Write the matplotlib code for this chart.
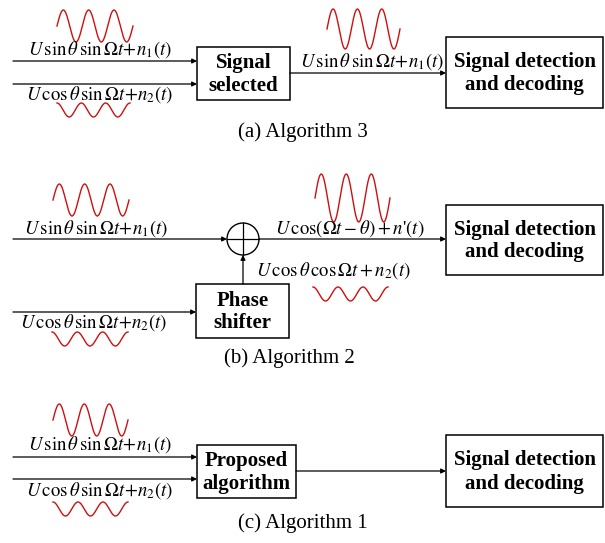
import numpy as np
import matplotlib.pyplot as plt
from matplotlib.patches import Rectangle, Circle

plt.rcParams['font.family'] = ['Liberation Serif', 'DejaVu Serif']
plt.rcParams['mathtext.fontset'] = 'stix'

# texts
sig1 = r'$U\,\sin\theta\,\sin\Omega t\!+\!n_1(t)$'
sig2 = r'$U\,\cos\theta\,\sin\Omega t\!+\!n_2(t)$'
sig_sum = r"$U\,\cos(\Omega t-\theta)+n$'$(t)$"
sig_shift = r'$U\,\cos\theta\,\cos\Omega t+n_2(t)$'
captions = ['(a) Algorithm 3', '(b) Algorithm 2', '(c) Algorithm 1']
mid_boxes = ['Signal\nselected', 'Phase\nshifter', 'Proposed\nalgorithm']
out_box = 'Signal detection\nand decoding'

# little red waves: (x0, x1, y centre, amplitude, cycles, start phase)
big_waves = [(57, 133, 26, 16, 3, 0.0), (327, 400, 29, 20, 3, 0.0),
             (53, 129, 200, 16, 3, 0.0), (315, 390, 198, 24, 3, 0.0),
             (53, 128, 420, 16, 3, 0.0)]
small_waves = [(57, 130, 110, 7, 3, 0.25), (313, 388, 294, 7, 3, 0.25),
               (52, 128, 339, 7, 3, 0.25), (53, 128, 509, 7, 3, 0.25)]

fig = plt.figure(figsize=(6.05, 5.43), dpi=100)
ax = fig.add_axes([0, 0, 1, 1])
ax.set_xlim(0, 605)
ax.set_ylim(543, 0)
ax.axis('off')

BOXFS = 15
SIGFS = 13.5
CAPFS = 15


def box(x0, y0, x1, y1, txt):
    ax.add_patch(Rectangle((x0, y0), x1 - x0, y1 - y0, fill=False, lw=1.1, ec='black'))
    ax.text((x0 + x1) / 2, (y0 + y1) / 2 + 1, txt, ha='center', va='center',
            fontsize=BOXFS, fontweight='bold', linespacing=1.2)


def arrow(x0, y0, x1, y1):
    ax.annotate('', xy=(x1, y1), xytext=(x0, y0),
                arrowprops=dict(arrowstyle='-|>', lw=0.9, color='black',
                                mutation_scale=7, shrinkA=0, shrinkB=0))


def wave(x0, x1, yc, amp, cyc, ph):
    t = np.linspace(0, 1, 300)
    ax.plot(x0 + (x1 - x0) * t, yc - amp * np.sin(2 * np.pi * (cyc * t + ph)),
            color='#cc1010', lw=1.0)


for w in big_waves + small_waves:
    wave(*w)

# (a)
arrow(13, 61, 197, 61)
arrow(13, 84, 197, 84)
ax.text(100, 50, sig1, ha='center', va='center', fontsize=SIGFS)
ax.text(100, 95, sig2, ha='center', va='center', fontsize=SIGFS)
box(197, 47, 290, 100, mid_boxes[0])
arrow(290, 73, 446, 73)
ax.text(372, 62, sig1, ha='center', va='center', fontsize=SIGFS)
box(446, 37, 603, 108, out_box)
ax.text(303, 132, captions[0], ha='center', va='center', fontsize=CAPFS)

# (b)
arrow(13, 239, 227, 239)
ax.text(96, 229, sig1, ha='center', va='center', fontsize=SIGFS)
ax.add_patch(Circle((243, 239), 16, fill=False, lw=1.0, ec='black'))
ax.plot([227, 259], [239, 239], color='black', lw=0.9)
ax.plot([243, 243], [223, 255], color='black', lw=0.9)
arrow(259, 239, 446, 239)
ax.text(350, 229, sig_sum, ha='center', va='center', fontsize=SIGFS)
box(196, 284, 289, 338, mid_boxes[1])
arrow(243, 284, 243, 255)
ax.text(333, 271, sig_shift, ha='center', va='center', fontsize=SIGFS)
arrow(13, 312, 196, 312)
ax.text(94, 323, sig2, ha='center', va='center', fontsize=SIGFS)
box(446, 205, 603, 275, out_box)
ax.text(289, 358, captions[1], ha='center', va='center', fontsize=CAPFS)

# (c)
arrow(13, 457, 197, 457)
arrow(13, 479, 197, 479)
ax.text(100, 445, sig1, ha='center', va='center', fontsize=SIGFS)
ax.text(100, 491, sig2, ha='center', va='center', fontsize=SIGFS)
box(197, 445, 296, 498, mid_boxes[2])
arrow(296, 471, 446, 471)
box(446, 435, 603, 507, out_box)
ax.text(303, 523, captions[2], ha='center', va='center', fontsize=CAPFS)

fig.savefig('out.png', dpi=100)
